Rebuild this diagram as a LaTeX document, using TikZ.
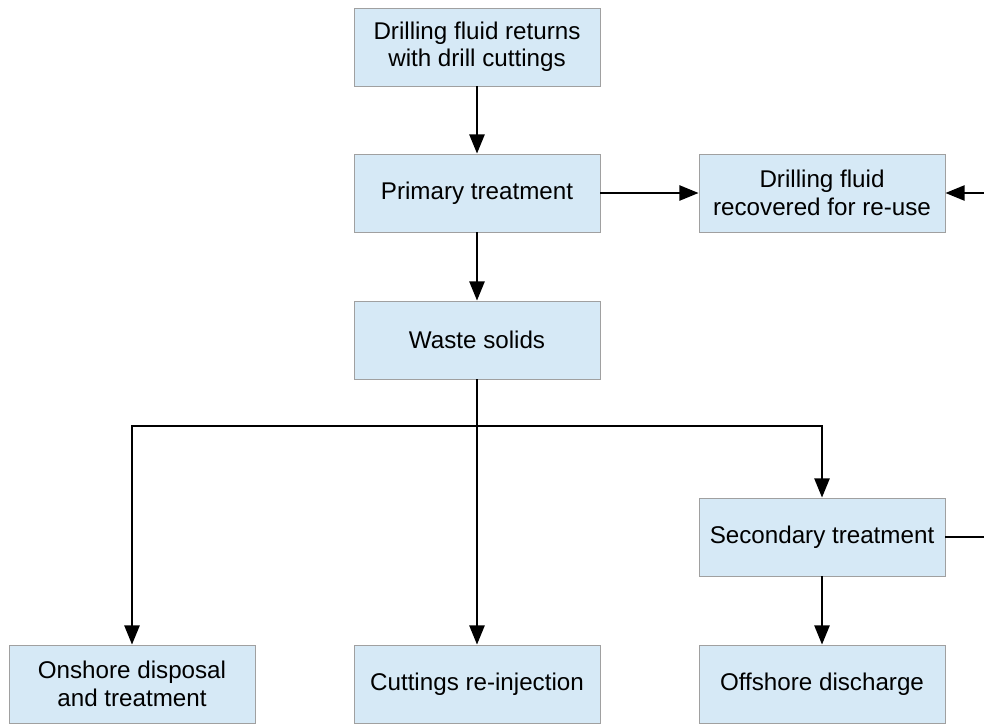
\documentclass[tikz,border=0pt]{standalone}
\usepackage{fontspec}
\setmainfont{Liberation Sans}
\usetikzlibrary{arrows.meta,positioning}
\definecolor{boxfill}{RGB}{214,233,246}
\definecolor{boxline}{RGB}{160,160,160}

\begin{document}
\begin{tikzpicture}[
  x=0.025cm, y=-0.025cm,
  every node/.style={font=\fontsize{17.2}{19.5}\selectfont},
  stage/.style={rectangle, fill=boxfill, draw=boxline, line width=0.6pt,
    minimum width=6.15cm, minimum height=1.95cm, align=center, inner sep=2pt},
  flow/.style={-{Triangle[length=4.8mm, width=3.8mm]}, line width=1.4pt, black}
]
\useasboundingbox (0,0) rectangle (984,724);
\clip (0,0) rectangle (984,724);

% Boxes
\node[stage] (returns) at (477,47) {Drilling fluid returns\\with drill cuttings};
\node[stage] (primary) at (477,193) {Primary treatment};
\node[stage] (recovered) at (822,193) {Drilling fluid\\recovered for re-use};
\node[stage] (waste) at (477,340) {Waste solids};
\node[stage] (secondary) at (822,537) {Secondary treatment};
\node[stage] (onshore) at (132,684) {Onshore disposal\\and treatment};
\node[stage] (reinject) at (477,684) {Cuttings re-injection};
\node[stage] (offshore) at (822,684) {Offshore discharge};

\coordinate (split) at (477,426);
\coordinate (back) at (1000,537);

% Connectors
\draw[flow] (returns) -- (primary);
\draw[flow] (primary) -- (recovered);
\draw[flow] (primary) -- (waste);
\draw[line width=1.4pt] (waste) -- (split);
\draw[flow] (split) -| (onshore);
\draw[flow] (split) -- (reinject);
\draw[flow] (split) -| (secondary);
\draw[flow] (secondary) -- (offshore);
\draw[flow] (secondary) -- (back) |- (recovered);
\end{tikzpicture}
\end{document}
